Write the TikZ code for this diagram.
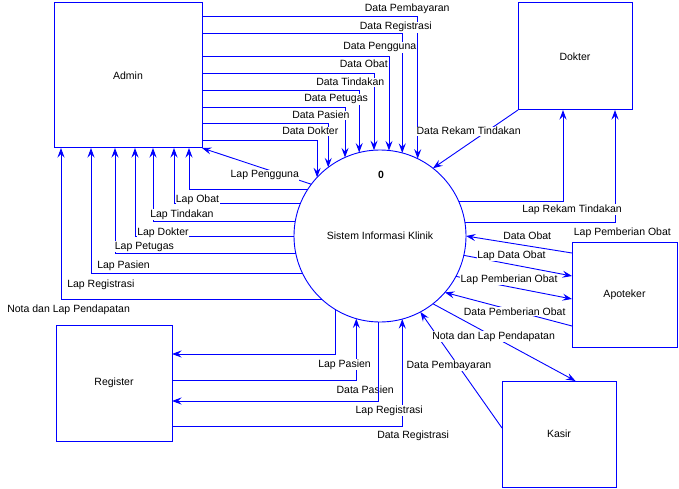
\documentclass[tikz,border=0pt]{standalone}
\usepackage{fontspec}
\setmainfont{Liberation Sans}
\usetikzlibrary{arrows.meta}
\definecolor{dfd}{RGB}{0,0,255}
\tikzset{
  ent/.style={draw=dfd, line width=1pt, fill=white, outer sep=0pt, inner sep=0pt, text=black},
  proc/.style={circle, draw=dfd, line width=0.9pt, minimum size=172pt, inner sep=0pt, outer sep=0pt, text=black},
  flow/.style={draw=dfd, line width=0.9pt, -{Stealth[length=9.5pt,width=7pt,inset=3.5pt]}},
  lab/.style={anchor=base west, fill=white, inner sep=0.4pt, text=black},
  labnf/.style={anchor=base west, inner sep=0.4pt, text=black},
}
\begin{document}
\begin{tikzpicture}[x=1pt,y=-1pt,font=\fontsize{10.5}{12}\selectfont]
\useasboundingbox (0,0) rectangle (679,489);
% entities
\node[ent, minimum width=148pt, minimum height=145pt] (Admin) at (128,75.5) {Admin};
\node[ent, minimum width=114pt, minimum height=107pt] (Dokter) at (575,56.5) {Dokter};
\node[ent, minimum width=105pt, minimum height=105pt] (Apoteker) at (624.5,294.5) {Apoteker};
\node[ent, minimum width=116pt, minimum height=116pt] (Register) at (114,383) {Register};
\node[ent, minimum width=114pt, minimum height=106pt] (Kasir) at (559,434) {Kasir};
% process
\node[proc] (S) at (380,236) {Sistem Informasi Klinik};
\node[text=black, font=\fontsize{10.5}{12}\selectfont\bfseries] (num) at (381,175) {0};

% labels drawn under the lines where the reference shows lines crossing them
\node[labnf] (l27) at (336,393) {Data Pasien};

% Admin -> process (data)
\draw[flow] (Admin.east |- 0,16) -| (S.64.52);
\draw[flow] (Admin.east |- 0,33) -| (S.75.18);
\draw[flow] (Admin.east |- 0,56) -| (S.84.66);
\draw[flow] (Admin.east |- 0,73) -| (S.94.67);
\draw[flow] (Admin.east |- 0,90) -| (S.104.82);
\draw[flow] (Admin.east |- 0,107) -| (S.114.75);
\draw[flow] (Admin.east |- 0,123) -| (S.127.21);
\draw[flow] (Admin.east |- 0,140) -| (S.137.10);
% process -> Admin (reports)
\draw[flow] (S.143) -- (Admin.south east);
\draw[flow] (S.147.66) -| (Admin.south -| 189,0);
\draw[flow] (S.158.87) -| (Admin.south -| 174,0);
\draw[flow] (S.170.63) -| (Admin.south -| 153,0);
\draw[flow] (S.180.67) -| (Admin.south -| 135,0);
\draw[flow] (S.192.76) -| (Admin.south -| 115,0);
\draw[flow] (S.206.22) -| (Admin.south -| 91,0);
\draw[flow] (S.228.09) -| (Admin.south -| 61,0);
% Dokter
\draw[flow] (Dokter.south west) -- (S.52.1);
\draw[flow] (S.24.02) -| (Dokter.south -| 563,0);
\draw[flow] (S.9.37) -| (Dokter.south -| 615,0);
% Apoteker
\draw[flow] (Apoteker.west |- 0,253) -- (S.-0.5);
\draw[flow] (S.-13.45) -- (Apoteker.west |- 0,276);
\draw[flow] (S.-28.47) -- (Apoteker.west |- 0,299);
\draw[flow] (Apoteker.west |- 0,326) -- (S.-41.8);
% Kasir
\draw[flow] (S.-52.5) -- ([xshift=16.5pt]Kasir.north);
\draw[flow] (Kasir.west |- 0,428) -- (S.-62.9);
% Register
\draw[flow] (S.239.23) |- (Register.east |- 0,354);
\draw[flow] (Register.east |- 0,380) -| (S.254.49);
\draw[flow] (S.269.33) |- (Register.east |- 0,401);
\draw[flow] (Register.east |- 0,426) -| (S.285.51);

% labels
\node[lab] (l1) at (364.3,12) {Data Pembayaran};
\node[lab] (l2) at (359.3,30) {Data Registrasi};
\node[lab] (l3) at (342.7,50) {Data Pengguna};
\node[lab] (l4) at (339.3,68) {Data Obat};
\node[lab] (l5) at (315.7,86) {Data Tindakan};
\node[lab] (l6) at (303.7,102) {Data Petugas};
\node[lab] (l7) at (291.7,119) {Data Pasien};
\node[lab] (l8) at (281.7,135) {Data Dokter};
\node[lab] (l9) at (230,178) {Lap Pengguna};
\node[lab] (l10) at (175.3,202) {Lap Obat};
\node[lab] (l11) at (149.7,217) {Lap Tindakan};
\node[lab] (l12) at (136.7,235) {Lap Dokter};
\node[lab] (l13) at (114.3,249) {Lap Petugas};
\node[lab] (l14) at (96.7,268) {Lap Pasien};
\node[lab] (l15) at (66.7,287) {Lap Registrasi};
\node[lab] (l16) at (6.7,312) {Nota dan Lap Pendapatan};
\node[lab] (l17) at (416,135) {Data Rekam Tindakan};
\node[lab] (l18) at (521.7,212) {Lap Rekam Tindakan};
\node[lab] (l19) at (573.3,235) {Lap Pemberian Obat};
\node[lab] (l20) at (502.7,239) {Data Obat};
\node[lab] (l21) at (476.7,258) {Lap Data Obat};
\node[lab] (l22) at (460,282) {Lap Pemberian Obat};
\node[lab] (l23) at (463.3,315) {Data Pemberian Obat};
\node[lab] (l24) at (431.7,339) {Nota dan Lap Pendapatan};
\node[lab] (l25) at (406,368) {Data Pembayaran};
\node[lab] (l26) at (317.7,367) {Lap Pasien};
\node[lab] (l28) at (355,413) {Lap Registrasi};
\node[lab] (l29) at (376.7,438) {Data Registrasi};
\end{tikzpicture}
\end{document}
